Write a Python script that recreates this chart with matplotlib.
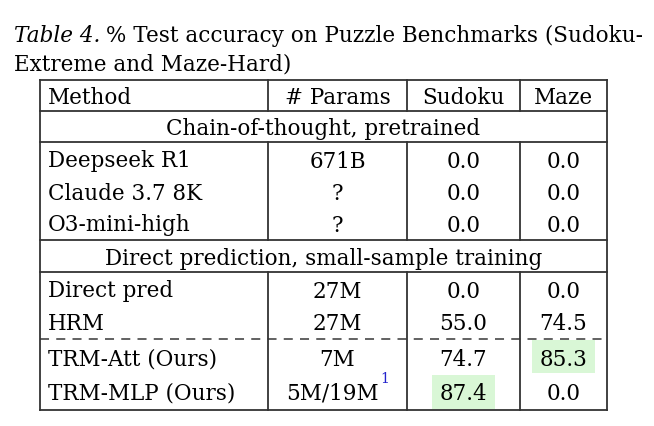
import matplotlib.pyplot as plt
from matplotlib.patches import Rectangle

header = ["Method", "# Params", "Sudoku", "Maze"]
group1 = "Chain-of-thought, pretrained"
rows1 = [["Deepseek R1", "671B", "0.0", "0.0"],
         ["Claude 3.7 8K", "?", "0.0", "0.0"],
         ["O3-mini-high", "?", "0.0", "0.0"]]
group2 = "Direct prediction, small-sample training"
rows2 = [["Direct pred", "27M", "0.0", "0.0"],
         ["HRM", "27M", "55.0", "74.5"]]
rows3 = [["TRM-Att (Ours)", "7M", "74.7", "85.3"],
         ["TRM-MLP (Ours)", "5M/19M", "87.4", "0.0"]]

FONT = "DejaVu Serif"
FS = 15.5
GREEN = "#d9f7d6"

fig = plt.figure(figsize=(6.54, 4.26), dpi=100)
ax = fig.add_axes([0, 0, 1, 1])
ax.set_xlim(0, 654)
ax.set_ylim(426, 0)
ax.axis("off")
fig.canvas.draw()
rend = fig.canvas.get_renderer()

def right_edge(t):
    bb = t.get_window_extent(rend)
    return ax.transData.inverted().transform((bb.x1, bb.y0))[0]

# caption
t = ax.text(14, 42, "Table 4.", fontsize=FS, family=FONT, style="italic", va="baseline")
ax.text(right_edge(t) + 6, 42, "% Test accuracy on Puzzle Benchmarks (Sudoku-",
        fontsize=FS, family=FONT, va="baseline")
ax.text(14, 71, "Extreme and Maze-Hard)", fontsize=FS, family=FONT, va="baseline")

xs = [40, 268, 407, 520, 607]
top, bot = 80, 410
lw = 1.3

# highlight cells
ax.add_patch(Rectangle((532, 340), 63, 33, color=GREEN, lw=0, zorder=0))
ax.add_patch(Rectangle((432, 375), 63, 34, color=GREEN, lw=0, zorder=0))

def cells(row, yc):
    ax.text(48, yc, row[0], fontsize=FS, family=FONT, va="center_baseline", ha="left")
    out = []
    for i in range(1, 4):
        out.append(ax.text((xs[i] + xs[i + 1]) / 2, yc, row[i], fontsize=FS, family=FONT,
                           va="center_baseline", ha="center"))
    return out

cells(header, 96)
ax.text((xs[0] + xs[-1]) / 2, 127, group1, fontsize=FS, family=FONT, va="center_baseline", ha="center")
for k, r in enumerate(rows1):
    cells(r, 159 + 32 * k)
ax.text((xs[0] + xs[-1]) / 2, 256, group2, fontsize=FS, family=FONT, va="center_baseline", ha="center")
for k, r in enumerate(rows2):
    cells(r, 289 + 32 * k)
last = None
for k, r in enumerate(rows3):
    last = cells(r, 357 + 34 * k)
# shift params text left a bit and add superscript
p = last[0]
p.set_x(p.get_position()[0] - 5)
ax.text(right_edge(p) + 1, 379, "1", fontsize=10, family=FONT, color="#2222cc", va="center")

# borders
for y in [top, 111, 142, 240, 272, bot]:
    ax.plot([xs[0], xs[-1]], [y, y], color="#333333", lw=lw)
ax.plot([xs[0], xs[-1]], [339, 339], color="#555555", lw=lw, ls=(0, (5, 4)))
ax.plot([xs[0], xs[0]], [top, bot], color="#333333", lw=lw)
ax.plot([xs[-1], xs[-1]], [top, bot], color="#333333", lw=lw)
for x in xs[1:-1]:
    for a, b in [(top, 111), (142, 240), (272, bot)]:
        ax.plot([x, x], [a, b], color="#333333", lw=lw)

fig.savefig("out.png", dpi=100)
